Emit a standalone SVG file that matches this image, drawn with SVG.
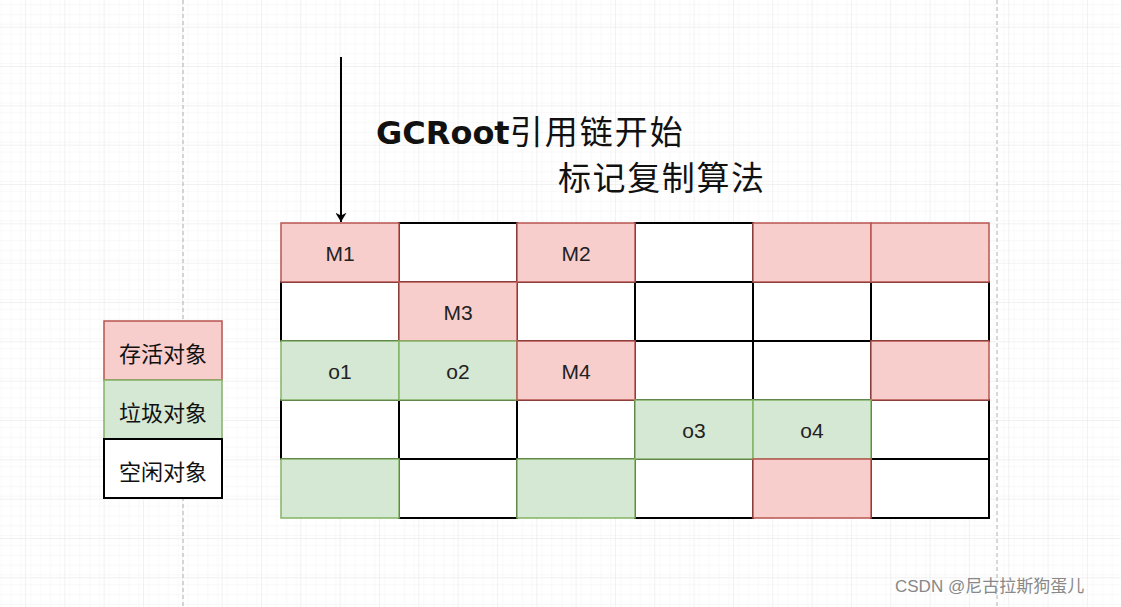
<svg xmlns="http://www.w3.org/2000/svg" width="1121" height="607" viewBox="0 0 1121 607">
<defs>
<pattern id="minor" x="25" y="26.7" width="9.833" height="9.833" patternUnits="userSpaceOnUse">
<path d="M0 0H9.833M0 0V9.833" fill="none" stroke="#f2f2f2" stroke-width="1"/>
</pattern>
<pattern id="major" x="25" y="26.7" width="39.33" height="39.33" patternUnits="userSpaceOnUse">
<rect width="39.33" height="39.33" fill="url(#minor)"/>
<path d="M0 0H39.33M0 0V39.33" fill="none" stroke="#e4e4e4" stroke-width="1"/>
</pattern>
<marker id="arrow" viewBox="0 0 10 12" refX="10" refY="6" markerWidth="12" markerHeight="11" markerUnits="userSpaceOnUse" orient="auto">
<path d="M0 0L10 6L0 12L3 6Z" fill="#000"/>
</marker>
<style>
.w{fill:#fff;stroke:#000;stroke-width:2}
.r{fill:#f8cecc;stroke:#b85450;stroke-width:1.5}
.g{fill:#d5e8d4;stroke:#82b366;stroke-width:1.5}
.t{font-family:"Liberation Sans",Arial,sans-serif;font-size:21px;fill:#222;text-anchor:middle;dominant-baseline:central}
.lg{font-family:"Noto Sans CJK SC",serif;font-size:22px;fill:#111;text-anchor:middle;dominant-baseline:central}
.ttl{font-family:"Noto Sans CJK SC",sans-serif;font-size:33px;fill:#111}
</style>
</defs>
<rect width="1121" height="607" fill="#fff"/>
<rect width="1121" height="607" fill="url(#major)"/>
<path d="M183 0V607M997 0V607" stroke="#b0b0b0" stroke-width="1" stroke-dasharray="4 3"/>

<g id="connectors">
<line x1="341" y1="57" x2="341" y2="222" stroke="#000" stroke-width="2" marker-end="url(#arrow)"/>
</g>

<g id="title">
<text class="ttl" x="376" y="144"><tspan font-weight="bold" font-family="'DejaVu Sans','Liberation Sans',sans-serif" font-size="32">GCRoot</tspan><tspan letter-spacing="2">引用链开始</tspan></text>
<text class="ttl" x="558" y="190" font-size="34" letter-spacing="1.6">标记复制算法</text>
</g>

<g id="grid">
<rect class="w" x="399" y="223" width="118" height="59"/>
<rect class="w" x="635" y="223" width="118" height="59"/>
<rect class="w" x="281" y="282" width="118" height="59"/>
<rect class="w" x="517" y="282" width="118" height="59"/>
<rect class="w" x="635" y="282" width="118" height="59"/>
<rect class="w" x="753" y="282" width="118" height="59"/>
<rect class="w" x="871" y="282" width="118" height="59"/>
<rect class="w" x="635" y="341" width="118" height="59"/>
<rect class="w" x="753" y="341" width="118" height="59"/>
<rect class="w" x="281" y="400" width="118" height="59"/>
<rect class="w" x="399" y="400" width="118" height="59"/>
<rect class="w" x="517" y="400" width="118" height="59"/>
<rect class="w" x="871" y="400" width="118" height="59"/>
<rect class="w" x="399" y="459" width="118" height="59"/>
<rect class="w" x="635" y="459" width="118" height="59"/>
<rect class="w" x="871" y="459" width="118" height="59"/>
</g>
<g id="M1"><rect class="r" x="281" y="223" width="118" height="59"/><text class="t" x="340" y="253">M1</text></g>
<g id="M2"><rect class="r" x="517" y="223" width="118" height="59"/><text class="t" x="576" y="253">M2</text></g>
<g id="r05"><rect class="r" x="753" y="223" width="118" height="59"/></g>
<g id="r06"><rect class="r" x="871" y="223" width="118" height="59"/></g>
<g id="M3"><rect class="r" x="399" y="282" width="118" height="59"/><text class="t" x="458" y="312">M3</text></g>
<g id="o1"><rect class="g" x="281" y="341" width="118" height="59"/><text class="t" x="340" y="371">o1</text></g>
<g id="o2"><rect class="g" x="399" y="341" width="118" height="59"/><text class="t" x="458" y="371">o2</text></g>
<g id="M4"><rect class="r" x="517" y="341" width="118" height="59"/><text class="t" x="576" y="371">M4</text></g>
<g id="r36"><rect class="r" x="871" y="341" width="118" height="59"/></g>
<g id="o3"><rect class="g" x="635" y="400" width="118" height="59"/><text class="t" x="694" y="430">o3</text></g>
<g id="o4"><rect class="g" x="753" y="400" width="118" height="59"/><text class="t" x="812" y="430">o4</text></g>
<g id="g51"><rect class="g" x="281" y="459" width="118" height="59"/></g>
<g id="g53"><rect class="g" x="517" y="459" width="118" height="59"/></g>
<g id="r55"><rect class="r" x="753" y="459" width="118" height="59"/></g>

<g id="legend-live"><rect class="r" x="104" y="321" width="118" height="59"/><text class="lg" x="163" y="352">存活对象</text></g>
<g id="legend-garbage"><rect class="g" x="104" y="380" width="118" height="59"/><text class="lg" x="163" y="411">垃圾对象</text></g>
<g id="legend-free"><rect class="w" x="104" y="439" width="118" height="59"/><text class="lg" x="163" y="470">空闲对象</text></g>

<text x="895" y="592" font-family="'Liberation Sans','Noto Sans CJK SC',sans-serif" font-size="17" fill="#888">CSDN @尼古拉斯狗蛋儿</text>
</svg>
